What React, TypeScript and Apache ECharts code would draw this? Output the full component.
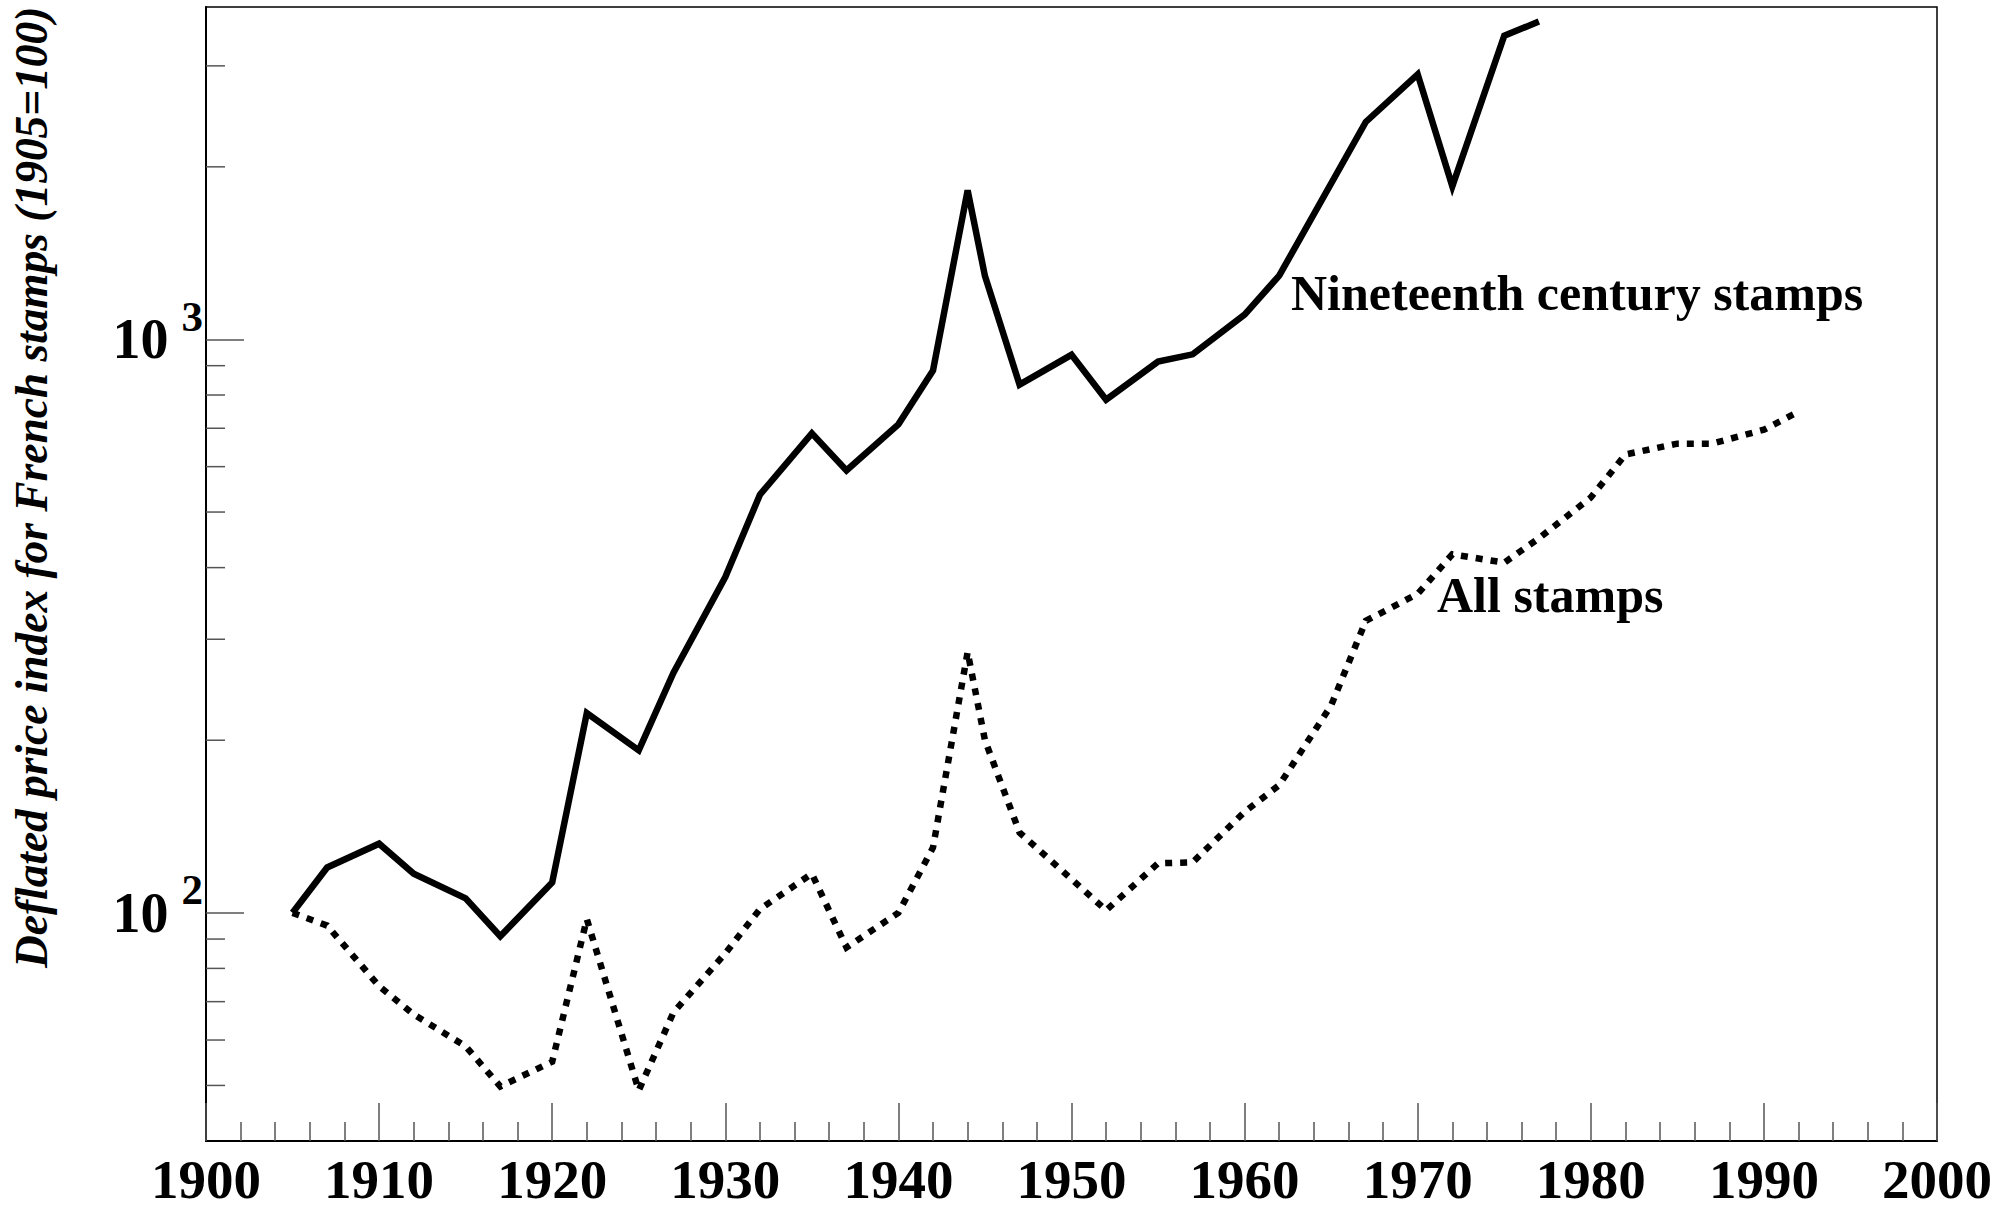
import React, { useEffect, useRef } from "react";
import * as echarts from "echarts";

// ---- data ----
const years19 = [1905, 1907, 1910, 1912, 1915, 1917, 1920, 1922, 1925, 1927, 1930, 1932, 1935, 1937, 1940, 1942, 1944, 1945, 1947, 1950, 1952, 1955, 1957, 1960, 1962, 1967, 1970, 1972, 1975, 1977];
const index19 = [100, 120, 132, 117, 106, 91, 113, 223, 192, 262, 385, 536, 686, 591, 711, 883, 1820, 1290, 834, 940, 785, 915, 942, 1105, 1292, 2395, 2900, 1850, 3385, 3585];

const yearsAll = [1905, 1907, 1910, 1912, 1915, 1917, 1920, 1922, 1925, 1927, 1930, 1932, 1935, 1937, 1940, 1942, 1944, 1945, 1947, 1950, 1952, 1955, 1957, 1960, 1962, 1965, 1967, 1970, 1972, 1975, 1977, 1980, 1982, 1985, 1987, 1990, 1992];
const indexAll = [100, 95, 74.5, 66.5, 58.5, 49.8, 55, 97.5, 49, 67, 85, 101.5, 117, 87, 100, 130, 285, 200, 138, 114.5, 101, 122, 122.5, 150, 167, 230, 323, 360, 422, 408, 450, 530, 630, 658, 658, 696, 748];

const seriesNames = ["Nineteenth century stamps", "All stamps"];
const yAxisTitle = "Deflated price index for French stamps (1905=100)";

const xRange = [1900, 2000];
const yRange = [40, 3800];
const yMinorTicks = [50, 60, 70, 80, 90, 200, 300, 400, 500, 600, 700, 800, 900, 2000, 3000];

const SERIF = "'Liberation Serif', 'Times New Roman', serif";

export default function App() {
  const ref = useRef<HTMLDivElement>(null);

  useEffect(() => {
    if (!ref.current) return;
    const chart = echarts.init(ref.current, null, { renderer: "svg" });

    const tickStyle = { color: "#555", width: 1.5 };

    const option: any = {
      animation: false,
      backgroundColor: "#ffffff",
      grid: {
        left: 206,
        right: 62,
        top: 7,
        bottom: 70,
        show: true,
        borderColor: "#000",
        borderWidth: 1.5,
        backgroundColor: "transparent",
      },
      xAxis: {
        type: "value",
        min: xRange[0],
        max: xRange[1],
        interval: 10,
        axisLine: { show: true, onZero: false, lineStyle: { color: "#000", width: 2 } },
        axisTick: { show: true, inside: true, length: 38, lineStyle: tickStyle },
        minorTick: { show: true, splitNumber: 5, length: 19, lineStyle: tickStyle },
        splitLine: { show: false },
        minorSplitLine: { show: false },
        axisLabel: {
          margin: 14,
          fontFamily: SERIF,
          fontWeight: "bold",
          fontSize: 55,
          lineHeight: 48,
          color: "#000",
          formatter: (v: number) => String(v),
        },
      },
      yAxis: {
        type: "log",
        logBase: 10,
        min: yRange[0],
        max: yRange[1],
        axisLine: { show: true, onZero: false, lineStyle: { color: "#000", width: 2 } },
        axisTick: { show: true, inside: true, length: 38, lineStyle: tickStyle },
        splitLine: { show: false },
        axisLabel: {
          margin: 3,
          showMinLabel: false,
          showMaxLabel: false,
          fontFamily: SERIF,
          fontWeight: "bold",
          fontSize: 55,
          color: "#000",
          formatter: (v: number) => {
            const e = Math.log10(v);
            if (Math.abs(e - Math.round(e)) > 1e-6) return "";
            return `{b|10}{s|${Math.round(e)}}`;
          },
          rich: {
            b: { fontFamily: SERIF, fontWeight: "bold", fontSize: 56, lineHeight: 56, color: "#000" },
            s: {
              fontFamily: SERIF,
              fontWeight: "bold",
              fontSize: 43,
              lineHeight: 43,
              color: "#000",
              padding: [0, 0, 46, 13],
            },
          },
        },
      },
      graphic: [
        {
          type: "text",
          x: 32,
          y: 968,
          rotation: Math.PI / 2,
          silent: true,
          style: {
            text: yAxisTitle,
            fontFamily: SERIF,
            fontWeight: "bold",
            fontStyle: "italic",
            fontSize: 45.4,
            fill: "#000",
            align: "left",
            verticalAlign: "middle",
            textAlign: "left",
            textVerticalAlign: "middle",
          },
        },
        {
          type: "text",
          x: 1291,
          y: 293,
          silent: true,
          style: {
            text: seriesNames[0],
            fontFamily: SERIF,
            fontWeight: "bold",
            fontSize: 50,
            fill: "#000",
            align: "left",
            verticalAlign: "middle",
            textAlign: "left",
            textVerticalAlign: "middle",
          },
        },
        {
          type: "text",
          x: 1437,
          y: 595,
          silent: true,
          style: {
            text: seriesNames[1],
            fontFamily: SERIF,
            fontWeight: "bold",
            fontSize: 50,
            fill: "#000",
            align: "left",
            verticalAlign: "middle",
            textAlign: "left",
            textVerticalAlign: "middle",
          },
        },
      ],
      series: [
        {
          type: "line",
          name: seriesNames[0],
          data: years19.map((y, i) => [y, index19[i]]),
          showSymbol: false,
          symbol: "none",
          lineStyle: { color: "#000", width: 6.5, type: "solid", join: "miter", miterLimit: 10 },
          z: 5,
        },
        {
          type: "line",
          name: seriesNames[1],
          data: yearsAll.map((y, i) => [y, indexAll[i]]),
          showSymbol: false,
          symbol: "none",
          lineStyle: { color: "#000", width: 6.5, type: [7, 8], cap: "butt", join: "miter", miterLimit: 10 },
          z: 5,
        },
        {
          type: "custom",
          name: "y minor ticks",
          silent: true,
          clip: false,
          data: yMinorTicks.map((v) => [xRange[0], v]),
          encode: { x: 0, y: 1 },
          renderItem: (_params: any, api: any) => {
            const p = api.coord([api.value(0), api.value(1)]);
            return {
              type: "line",
              shape: { x1: p[0], y1: p[1], x2: p[0] + 19, y2: p[1] },
              style: { stroke: tickStyle.color, lineWidth: tickStyle.width },
            };
          },
          z: 3,
        },
      ],
    };

    chart.setOption(option);
    return () => chart.dispose();
  }, []);

  return (
    <div
      ref={ref}
      style={{ position: "absolute", left: 0, top: 0, width: 1999, height: 1211, background: "#fff" }}
    />
  );
}
